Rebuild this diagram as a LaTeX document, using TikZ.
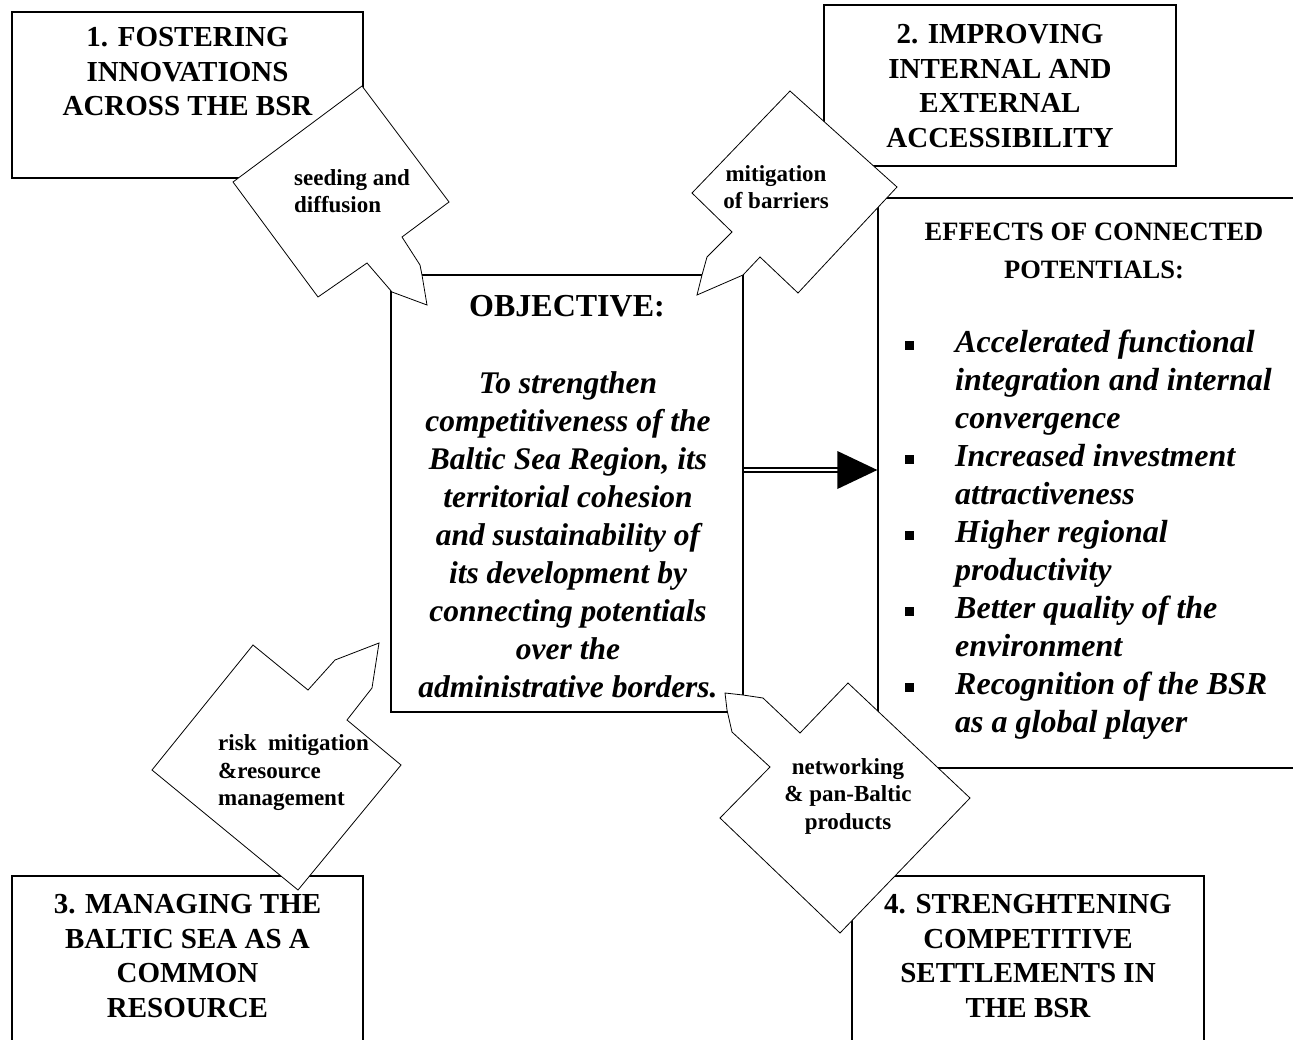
\documentclass[tikz,border=0pt]{standalone}
\usepackage{fontspec}
\setmainfont{Liberation Serif}
\newcommand\mybul{\llap{\raisebox{3pt}{\rule{9pt}{9pt}}\hspace{41pt}}}
\tikzset{
  box/.style={draw, line width=1.3pt, rectangle, inner sep=0pt},
  ttl/.style={font=\fontsize{29}{34.5}\selectfont\bfseries, align=center, inner sep=0pt},
  callout/.style={draw, fill=white, line width=0.8pt, line join=miter},
  ctext/.style={font=\fontsize{23}{27.5}\selectfont\bfseries, inner sep=0pt},
  bigit/.style={font=\fontsize{31.5}{38}\selectfont\bfseries\itshape, inner sep=0pt},
  itemit/.style={font=\fontsize{32}{38}\selectfont\bfseries\itshape, inner sep=0pt},
}
\begin{document}
\begin{tikzpicture}[x=1pt,y=-1pt]
\useasboundingbox (0,0) rectangle (1293,1039);
\clip (0,0) rectangle (1293,1039);

% boxes
\node[box, minimum width=351pt, minimum height=166pt] (b1) at (187.5,95) {};
\node[box, minimum width=352pt, minimum height=161pt] (b2) at (1000,85.5) {};
\node[box, minimum width=352pt, minimum height=437pt] (obj) at (567,493.5) {};
\node[box, minimum width=424pt, minimum height=570pt] (eff) at (1090,483) {};
\node[box, minimum width=351pt, minimum height=169pt] (b3) at (187.5,960.5) {};
\node[box, minimum width=352pt, minimum height=169pt] (b4) at (1028,960.5) {};

% titles
\node[ttl] (t1) at (187.5,72) {1. FOSTERING\\INNOVATIONS\\ACROSS THE BSR};
\node[ttl] (t2) at (1000,86) {2. IMPROVING\\INTERNAL AND\\EXTERNAL\\ACCESSIBILITY};
\node[ttl] (t3) at (187.5,956) {3. MANAGING THE\\BALTIC SEA AS A\\COMMON\\RESOURCE};
\node[ttl] (t4) at (1028,956) {4. STRENGHTENING\\COMPETITIVE\\SETTLEMENTS IN\\THE BSR};

% objective
\node[font=\fontsize{32}{38}\selectfont\bfseries, inner sep=0pt] (objt) at (567,306) {OBJECTIVE:};
\node[bigit, align=center] (objx) at (568,535) {To strengthen\\competitiveness of the\\Baltic Sea Region, its\\territorial cohesion\\and sustainability of\\its development by\\connecting potentials\\over the\\administrative borders.};

% effects
\node[font=\fontsize{26.5}{38}\selectfont\bfseries, align=center, inner sep=0pt] (efft) at (1094,251) {EFFECTS OF CONNECTED\\POTENTIALS:};
\node[itemit, align=left, anchor=west] (items) at (955,535) {\mybul Accelerated functional\\integration and internal\\convergence\\\mybul Increased investment\\attractiveness\\\mybul Higher regional\\productivity\\\mybul Better quality of the\\environment\\\mybul Recognition of the BSR\\as a global player};

% arrow
\coordinate (abase) at (838,470);
\draw[line width=2.2pt, double distance=2.5pt] ([xshift=0.8pt]obj.east |- abase) -- (abase);
\fill (eff.west |- abase) -- ++(-40,-19) -- ++(0,38) -- cycle;

% callouts
\draw[callout] (233,182) -- (362,86) -- (449,202) -- (402,237) -- (420,265) -- (422,275) -- (427,305) -- (392,292) -- (367,263) -- (318,297) -- cycle;
\draw[callout] (692,193) -- (790,91) -- (897,187) -- (798,293) -- (760,257) -- (743,275) -- (697,295) -- (702,275) -- (707,257) -- (732,232) -- cycle;
\draw[callout] (152,770) -- (253,645) -- (308,690) -- (335,660) -- (379,643) -- (372,688) -- (347,720) -- (401,765) -- (298,890) -- cycle;
\draw[callout] (720,818) -- (770,767) -- (732,732) -- (727,710) -- (725,693) -- (743,695) -- (763,698) -- (800,733) -- (848,683) -- (970,798) -- (840,933) -- cycle;

\node[ctext, align=left, anchor=west] (l1) at (294,191) {seeding and\\diffusion};
\node[ctext, align=center] (l2) at (776,187) {mitigation\\of barriers};
\node[ctext, align=left, anchor=west] (l3) at (218,773) {risk\ \ mitigation\\\&resource\\management};
\node[ctext, align=center] (l4) at (848,796) {networking\\\& pan-Baltic\\products};
\end{tikzpicture}
\end{document}
